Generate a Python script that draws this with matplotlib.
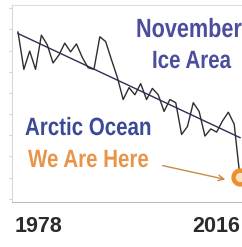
import matplotlib
matplotlib.use("Agg")
import matplotlib.pyplot as plt
import numpy as np
from matplotlib.patheffects import AbstractPathEffect
from matplotlib.transforms import Affine2D

years = list(range(1978, 2017))
ice_area = [9.00, 8.53, 8.76, 8.53, 8.96, 8.84, 8.61, 8.71, 8.86, 8.75,
            8.85, 8.68, 8.55, 8.53, 8.94, 8.88, 8.65, 8.43, 8.15, 8.30,
            8.21, 8.35, 8.15, 8.29, 8.21, 8.00, 8.15, 8.11, 7.71, 7.81,
            8.11, 8.00, 7.69, 7.78, 7.74, 7.88, 7.99, 7.84, 7.17]
year_labels = ["1978", "2016"]
title_lines = ["November", "Ice Area"]
region_label = "Arctic Ocean"
here_label = "We Are Here"


class Squeeze(AbstractPathEffect):
    """Draw text glyphs horizontally condensed about the text anchor."""
    def __init__(self, sx):
        super().__init__()
        self.sx = sx

    def draw_path(self, renderer, gc, tpath, affine, rgbFace=None):
        m = affine.get_matrix()
        x0, y0 = m[0, 2], m[1, 2]
        new = affine + Affine2D().translate(-x0, -y0).scale(self.sx, 1).translate(x0, y0)
        renderer.draw_path(gc, tpath, new, rgbFace)


W, H = 242, 247
fig = plt.figure(figsize=(W / 100, H / 100), dpi=100)
fig.patch.set_facecolor("white")

ax_left, ax_right, ax_top, ax_bottom = 12, 242, 5, 202
ax = fig.add_axes([ax_left / W, 1 - ax_bottom / H,
                   (ax_right - ax_left) / W, (ax_bottom - ax_top) / H])
ax.set_xlim(1976.97, 2016.34)
ax.set_ylim(6.86, 9.34)

x = np.array(years, dtype=float)
y = np.array(ice_area)
ax.plot(x, y, color="#2e2e2e", lw=1.0)
coef = np.polyfit(x, y, 1)
ax.plot(x, np.polyval(coef, x), color="#2b2f55", lw=1.0)
ax.plot([x[-1]], [y[-1]], marker="o", markersize=10, markerfacecolor="#fbe3c0",
        markeredgecolor="#ec8f2c", markeredgewidth=3.2, clip_on=False, zorder=5)

ax.spines["right"].set_visible(False)
ax.spines["left"].set_color("#d8d8d8")
ax.spines["top"].set_color("#dcdcdc")
ax.spines["bottom"].set_color("#bdbdbd")
ax.set_xticks([])
ax.set_yticks(np.linspace(6.9, 9.3, 10))
ax.set_yticklabels([])
ax.tick_params(axis="y", length=2, color="#d0d0d0", direction="out")

def fx(px):
    return px / W

def fy(py):
    return 1 - py / H

fam = ["Liberation Sans", "DejaVu Sans"]
sq = [Squeeze(0.82)]
ttl_col = "#4a4e9c"
fig.text(fx(136), fy(37), title_lines[0], ha="left", va="baseline",
         fontsize=19, fontweight="bold", color=ttl_col, family=fam, path_effects=sq)
fig.text(fx(152), fy(68), title_lines[1], ha="left", va="baseline",
         fontsize=18, fontweight="bold", color=ttl_col, family=fam, path_effects=sq)
fig.text(fx(25), fy(135), region_label, ha="left", va="baseline",
         fontsize=18, fontweight="bold", color="#3a4a96", family=fam, path_effects=sq)
fig.text(fx(28), fy(167), here_label, ha="left", va="baseline",
         fontsize=18, fontweight="bold", color="#e8944a", family=fam, path_effects=sq)
fig.text(fx(15), fy(232), year_labels[0], ha="left", va="baseline",
         fontsize=15.5, fontweight="bold", color="#2b2b2b", family=fam)
fig.text(fx(192), fy(232), year_labels[1], ha="left", va="baseline",
         fontsize=15.5, fontweight="bold", color="#2b2b2b", family=fam)

ax.annotate("", xy=(fx(228), fy(180)), xycoords="figure fraction",
            xytext=(fx(160), fy(165)), textcoords="figure fraction",
            arrowprops=dict(arrowstyle="->", color="#c98a48", lw=1.0,
                            mutation_scale=10))

fig.savefig("out.png", dpi=100, facecolor="white")
